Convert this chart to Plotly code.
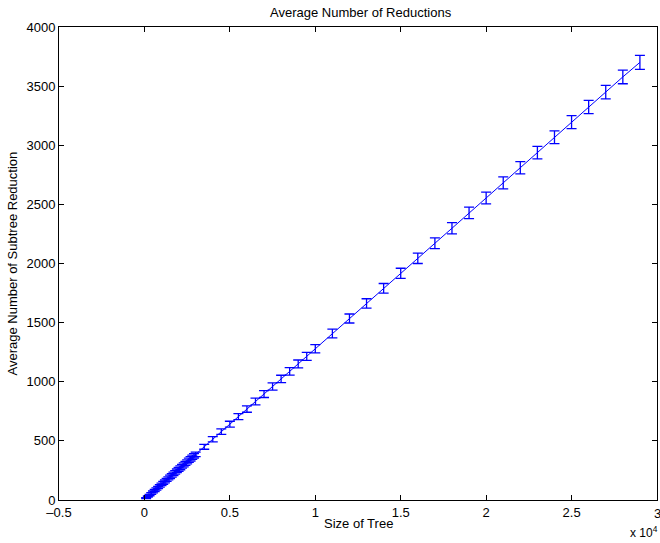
import plotly.graph_objects as go

# Tree sizes
tree_size = [100, 200, 300, 400, 500, 600, 700, 800, 900, 1000,
             1100, 1200, 1300, 1400, 1500, 1600, 1700, 1800, 1900, 2000,
             2100, 2200, 2300, 2400, 2500, 2600, 2700, 2800, 2900, 3000,
             3500, 4000, 4500, 5000, 5500, 6000, 6500, 7000, 7500, 8000,
             8500, 9000, 9500, 10000,
             11000, 12000, 13000, 14000, 15000, 16000, 17000, 18000, 19000, 20000,
             21000, 22000, 23000, 24000, 25000, 26000, 27000, 28000, 29000]

# Average number of subtree reductions
avg_reductions = [16, 29, 42, 55, 68, 81, 93, 106, 119, 132,
                  145, 157, 170, 183, 196, 208, 221, 234, 247, 259,
                  272, 285, 297, 310, 323, 336, 348, 361, 374, 386,
                  450, 514, 578, 641, 705, 769, 833, 896, 960, 1024,
                  1088, 1151, 1215, 1279,
                  1408, 1535, 1662, 1790, 1917, 2044, 2171, 2298, 2428, 2554,
                  2682, 2810, 2938, 3068, 3195, 3324, 3450, 3578, 3701]

# Error bar half-lengths
err = [4, 5, 6, 7, 8, 9, 9, 10, 10, 11,
       12, 12, 13, 13, 14, 14, 14, 15, 15, 16,
       16, 16, 17, 17, 17, 18, 18, 18, 19, 19,
       21, 22, 23, 25, 26, 27, 28, 29, 30, 31,
       32, 33, 34, 35,
       37, 38, 40, 41, 43, 44, 45, 47, 48, 49,
       51, 52, 53, 54, 55, 56, 57, 58, 59]

xtick_vals = [-5000, 0, 5000, 10000, 15000, 20000, 25000]
xtick_text = ["\u20130.5", "0", "0.5", "1", "1.5", "2", "2.5"]
last_xtick_text = "3"
ytick_vals = [0, 500, 1000, 1500, 2000, 2500, 3000, 3500, 4000]

FONT = "Liberation Sans, Arial, Helvetica, sans-serif"
FS = 13
W, H = 660, 543
L, R, T, B = 59, 3, 27, 43
PH = H - T - B
PW = W - L - R

fig = go.Figure()
fig.add_trace(go.Scatter(
    x=tree_size, y=avg_reductions, mode="lines",
    line=dict(color="#0000ff", width=1),
    error_y=dict(type="data", array=err, visible=True,
                 color="#0000ff", thickness=1.3, width=5),
    showlegend=False, hoverinfo="skip",
))

axis_common = dict(showline=True, linecolor="black", linewidth=1, mirror="ticks",
                   ticks="inside", ticklen=5, tickcolor="black", tickwidth=1,
                   showgrid=False, zeroline=False, automargin=False,
                   tickfont=dict(family=FONT, size=FS, color="black"))

fig.update_layout(
    width=W, height=H,
    margin=dict(l=L, r=R, t=T, b=B, autoexpand=False),
    paper_bgcolor="white", plot_bgcolor="white",
    xaxis=dict(range=[-5000, 30000], tickvals=xtick_vals + [30000],
               ticktext=xtick_text + [""], ticklabelstandoff=0, **axis_common),
    yaxis=dict(range=[0, 4000], tickvals=ytick_vals, **axis_common),
    annotations=[
        dict(text="Average Number of Reductions", xref="paper", yref="paper",
             x=0.505, y=1 + 15 / PH, xanchor="center", yanchor="middle", showarrow=False,
             font=dict(family=FONT, size=FS, color="black")),
        dict(text=last_xtick_text, xref="paper", yref="paper",
             x=1.0, y=-(513 - 500) / PH, xanchor="center", yanchor="middle", showarrow=False,
             font=dict(family=FONT, size=FS, color="black")),
        dict(text="Size of Tree", xref="paper", yref="paper",
             x=0.5, y=-(523 - 500) / PH, xanchor="center", yanchor="middle", showarrow=False,
             font=dict(family=FONT, size=FS, color="black")),
        dict(text="Average Number of Subtree Reduction", xref="paper", yref="paper",
             x=-(L - 12) / PW, y=0.5, xanchor="center", yanchor="middle", showarrow=False,
             textangle=-90, font=dict(family=FONT, size=FS, color="black")),
        dict(text="x 10<sup>4</sup>", xref="paper", yref="paper",
             x=1.005, y=-(542 - 500) / PH, xanchor="right", yanchor="bottom", showarrow=False,
             font=dict(family=FONT, size=12, color="black")),
    ],
)

fig.write_html("out.html", config={"displayModeBar": False},
               post_script="document.body.style.margin='0';document.body.style.overflow='hidden';")
